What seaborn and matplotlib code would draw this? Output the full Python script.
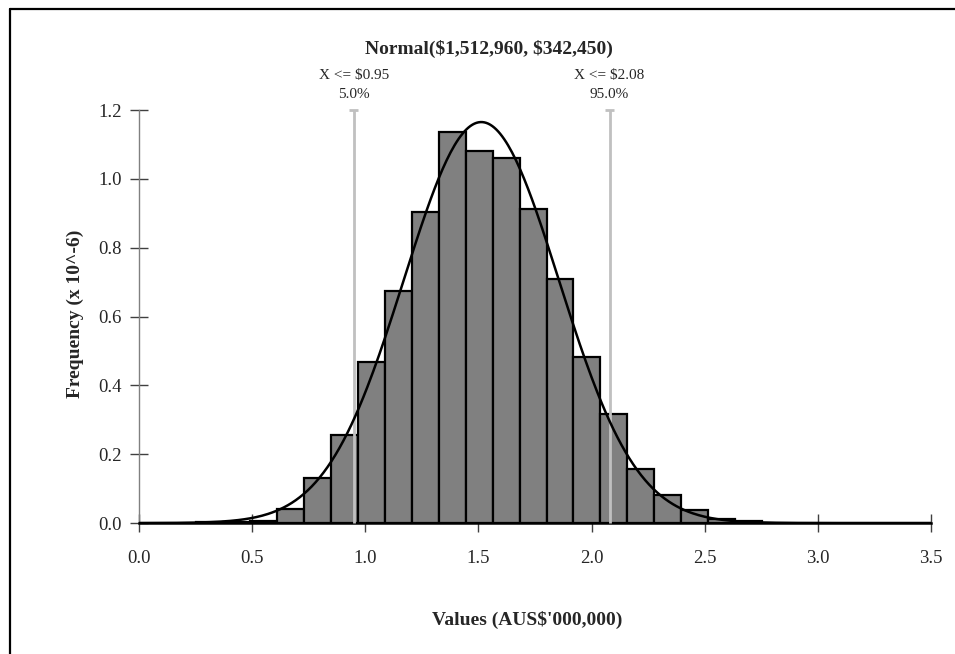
import numpy as np
import pandas as pd
import matplotlib
matplotlib.use('Agg')
import matplotlib.pyplot as plt
import seaborn as sns
from matplotlib.lines import Line2D

# Histogram data (frequency x 10^-6)
bin_start = 0.2515
bin_width = 0.1192
freq = [0.003, 0.003, 0.007, 0.042, 0.132, 0.257, 0.469, 0.673, 0.904, 1.135,
        1.082, 1.060, 0.911, 0.709, 0.483, 0.317, 0.156, 0.082, 0.037, 0.011, 0.006]

# Fitted distribution parameters (AUS$'000,000)
mu = 1.51296
sigma = 0.34245

# Percentile markers
pct_x = [0.95, 2.08]
pct_top = [r"X <= \$0.95", r"X <= \$2.08"]
pct_bottom = ["5.0%", "95.0%"]

x_ticks = [0.0, 0.5, 1.0, 1.5, 2.0, 2.5, 3.0, 3.5]
y_ticks = [0.0, 0.2, 0.4, 0.6, 0.8, 1.0, 1.2]

sns.set_style('white')
plt.rcParams['font.family'] = ['Liberation Serif', 'DejaVu Serif']

fig = plt.figure(figsize=(9.55, 6.54), dpi=100)
ax = fig.add_axes([0.1455, 0.2003, 0.8293, 0.6315])

edges = (bin_start + bin_width * np.arange(len(freq) + 1)).tolist()
df = pd.DataFrame({'value': [(a + b) / 2 for a, b in zip(edges[:-1], edges[1:])], 'freq': freq})
sns.histplot(data=df, x='value', weights='freq', bins=edges, stat='count', ax=ax,
             color='#808080', edgecolor='black', linewidth=1.6, alpha=1)

# theoretical normal density from the title parameters
xs = np.linspace(0, 3.5, 400)
pdf = np.exp(-0.5 * ((xs - mu) / sigma) ** 2) / (sigma * np.sqrt(2 * np.pi))
sns.lineplot(x=xs, y=pdf, ax=ax, color='black', linewidth=1.8, zorder=5)

# percentile lines
for px, t1, t2 in zip(pct_x, pct_top, pct_bottom):
    ax.plot([px, px], [0, 1.2], color='#c0c0c0', linewidth=2, zorder=4,
            clip_on=False, solid_capstyle='butt')
    ax.plot([px - 0.02, px + 0.02], [1.2, 1.2], color='#c0c0c0', linewidth=2,
            clip_on=False, solid_capstyle='butt')
    ax.text(px, 1.244, t2, ha='center', va='center', fontsize=11)
    ax.text(px, 1.299, t1, ha='center', va='center', fontsize=11)

ax.set_xlim(0, 3.5)
ax.set_ylim(0, 1.2)
ax.set_xticks(x_ticks)
ax.set_yticks(y_ticks)
ax.set_xticklabels([f'{v:.1f}' for v in x_ticks], fontsize=13.5)
ax.set_yticklabels([f'{v:.1f}' for v in y_ticks], fontsize=13.5)
ax.tick_params(axis='both', direction='inout', length=13, width=1, color='#404040',
               bottom=True, left=True)
ax.tick_params(axis='x', pad=13)
ax.tick_params(axis='y', pad=6)

for s in ['top', 'right']:
    ax.spines[s].set_visible(False)
ax.spines['left'].set_color('#808080')
ax.spines['left'].set_linewidth(1)
ax.spines['bottom'].set_color('black')
ax.spines['bottom'].set_linewidth(1.8)

ax.set_xlabel('')
ax.set_ylabel('')
fig.text(527 / 955, 1 - 620 / 654, "Values (AUS\\$'000,000)", ha='center', va='center',
         fontsize=14, fontweight='bold')
fig.text(75 / 955, 1 - 314 / 654, 'Frequency (x 10^-6)', ha='center', va='center',
         fontsize=14, fontweight='bold', rotation=90)
fig.text(489 / 955, 1 - 49 / 654, r'Normal(\$1,512,960, \$342,450)', ha='center', va='center',
         fontsize=14, fontweight='bold')

# outer frame (left and top visible)
fig.add_artist(Line2D([10 / 955, 10 / 955], [0, 1 - 9 / 654], color='black', linewidth=1.6,
                      transform=fig.transFigure))
fig.add_artist(Line2D([10 / 955, 1], [1 - 9 / 654, 1 - 9 / 654], color='black', linewidth=1.6,
                      transform=fig.transFigure))

fig.savefig('out.png', dpi=100)
